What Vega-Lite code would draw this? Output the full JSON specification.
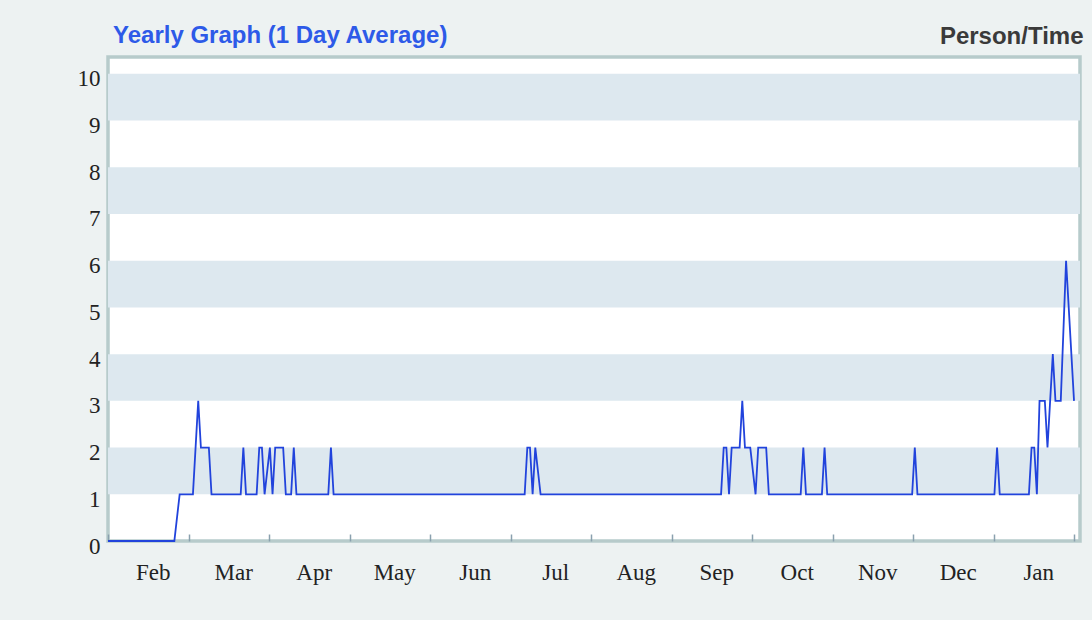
{
  "$schema": "https://vega.github.io/schema/vega-lite/v6.json",
  "width": 972,
  "height": 484,
  "autosize": {"type": "none"},
  "padding": {"left": 108, "top": 57, "right": 12, "bottom": 79},
  "background": "#edf2f2",
  "title": {
    "text": "Yearly Graph (1 Day Average)",
    "anchor": "start",
    "frame": "group",
    "dx": 5,
    "dy": 57,
    "offset": 14,
    "baseline": "alphabetic",
    "font": "Liberation Sans",
    "fontSize": 24,
    "fontWeight": "bold",
    "color": "#2d5ae8"
  },
  "datasets": {
    "bands": [
      {"lo": 1, "hi": 2},
      {"lo": 3, "hi": 4},
      {"lo": 5, "hi": 6},
      {"lo": 7, "hi": 8},
      {"lo": 9, "hi": 10}
    ],
    "visits": [
      {"date": "2023-02-01", "persons": 0},
      {"date": "2023-02-26", "persons": 0},
      {"date": "2023-02-28", "persons": 1},
      {"date": "2023-03-05", "persons": 1},
      {"date": "2023-03-07", "persons": 3},
      {"date": "2023-03-08", "persons": 2},
      {"date": "2023-03-11", "persons": 2},
      {"date": "2023-03-12", "persons": 1},
      {"date": "2023-03-23", "persons": 1},
      {"date": "2023-03-24", "persons": 2},
      {"date": "2023-03-25", "persons": 1},
      {"date": "2023-03-29", "persons": 1},
      {"date": "2023-03-30", "persons": 2},
      {"date": "2023-03-31", "persons": 2},
      {"date": "2023-04-01", "persons": 1},
      {"date": "2023-04-03", "persons": 2},
      {"date": "2023-04-04", "persons": 1},
      {"date": "2023-04-05", "persons": 2},
      {"date": "2023-04-08", "persons": 2},
      {"date": "2023-04-09", "persons": 1},
      {"date": "2023-04-11", "persons": 1},
      {"date": "2023-04-12", "persons": 2},
      {"date": "2023-04-13", "persons": 1},
      {"date": "2023-04-25", "persons": 1},
      {"date": "2023-04-26", "persons": 2},
      {"date": "2023-04-27", "persons": 1},
      {"date": "2023-07-08", "persons": 1},
      {"date": "2023-07-09", "persons": 2},
      {"date": "2023-07-10", "persons": 2},
      {"date": "2023-07-11", "persons": 1},
      {"date": "2023-07-12", "persons": 2},
      {"date": "2023-07-14", "persons": 1},
      {"date": "2023-09-20", "persons": 1},
      {"date": "2023-09-21", "persons": 2},
      {"date": "2023-09-22", "persons": 2},
      {"date": "2023-09-23", "persons": 1},
      {"date": "2023-09-24", "persons": 2},
      {"date": "2023-09-27", "persons": 2},
      {"date": "2023-09-28", "persons": 3},
      {"date": "2023-09-29", "persons": 2},
      {"date": "2023-10-01", "persons": 2},
      {"date": "2023-10-03", "persons": 1},
      {"date": "2023-10-04", "persons": 2},
      {"date": "2023-10-07", "persons": 2},
      {"date": "2023-10-08", "persons": 1},
      {"date": "2023-10-20", "persons": 1},
      {"date": "2023-10-21", "persons": 2},
      {"date": "2023-10-22", "persons": 1},
      {"date": "2023-10-28", "persons": 1},
      {"date": "2023-10-29", "persons": 2},
      {"date": "2023-10-30", "persons": 1},
      {"date": "2023-12-01", "persons": 1},
      {"date": "2023-12-02", "persons": 2},
      {"date": "2023-12-03", "persons": 1},
      {"date": "2024-01-01", "persons": 1},
      {"date": "2024-01-02", "persons": 2},
      {"date": "2024-01-03", "persons": 1},
      {"date": "2024-01-14", "persons": 1},
      {"date": "2024-01-15", "persons": 2},
      {"date": "2024-01-16", "persons": 2},
      {"date": "2024-01-17", "persons": 1},
      {"date": "2024-01-18", "persons": 3},
      {"date": "2024-01-20", "persons": 3},
      {"date": "2024-01-21", "persons": 2},
      {"date": "2024-01-23", "persons": 4},
      {"date": "2024-01-24", "persons": 3},
      {"date": "2024-01-26", "persons": 3},
      {"date": "2024-01-28", "persons": 6},
      {"date": "2024-01-31", "persons": 3}
    ]
  },
  "encoding": {
    "y": {
      "type": "quantitative",
      "scale": {"domain": [0, 10.36], "nice": false},
      "axis": {
        "values": [0, 1, 2, 3, 4, 5, 6, 7, 8, 9, 10],
        "title": "Person/Time",
        "titleAngle": 0,
        "titleAlign": "right",
        "titleBaseline": "alphabetic",
        "titleX": 975,
        "titleY": -14,
        "titleFont": "Liberation Sans",
        "titleFontSize": 24,
        "titleFontWeight": "bold",
        "titleColor": "#3a3a3a",
        "ticks": false,
        "domain": false,
        "grid": false,
        "labelFont": "Liberation Serif",
        "labelFontSize": 23,
        "labelColor": "#222222",
        "labelPadding": 8,
        "labelOffset": 5,
        "labelBaseline": "middle"
      }
    }
  },
  "layer": [
    {
      "data": {"name": "bands"},
      "mark": {"type": "rect", "color": "#dde8ef"},
      "encoding": {
        "y": {"field": "lo", "type": "quantitative"},
        "y2": {"field": "hi"}
      }
    },
    {
      "data": {"name": "visits"},
      "mark": {"type": "line", "color": "#2143dc", "strokeWidth": 1.8},
      "encoding": {
        "x": {
          "field": "date",
          "type": "temporal",
          "scale": {"type": "utc", "domain": [1675209600000, 1706853600000]},
          "axis": {
            "values": [1675209600000, 1677830400000, 1680451200000, 1683072000000, 1685692800000, 1688313600000, 1690934400000, 1693555200000, 1696176000000, 1698796800000, 1701417600000, 1704038400000, 1706659200000],
            "labelExpr": "toNumber(datum.value) > 1706000000000 ? '' : utcFormat(toNumber(datum.value) + 1296000000, '%b')",
            "labelOffset": 44.7,
            "labelAlign": "center",
            "labelBaseline": "alphabetic",
            "labelPadding": 45,
            "tickSize": -7,
            "tickColor": "#8aa0ae",
            "tickWidth": 1.5,
            "domain": false,
            "grid": false,
            "title": null,
            "labelFont": "Liberation Serif",
            "labelFontSize": 23,
            "labelColor": "#222222",
            "labelFlush": false,
            "labelOverlap": false
          }
        },
        "y": {"field": "persons", "type": "quantitative"}
      }
    }
  ],
  "config": {"view": {"fill": "white", "stroke": "#b7cbcb", "strokeWidth": 3.5}}
}
